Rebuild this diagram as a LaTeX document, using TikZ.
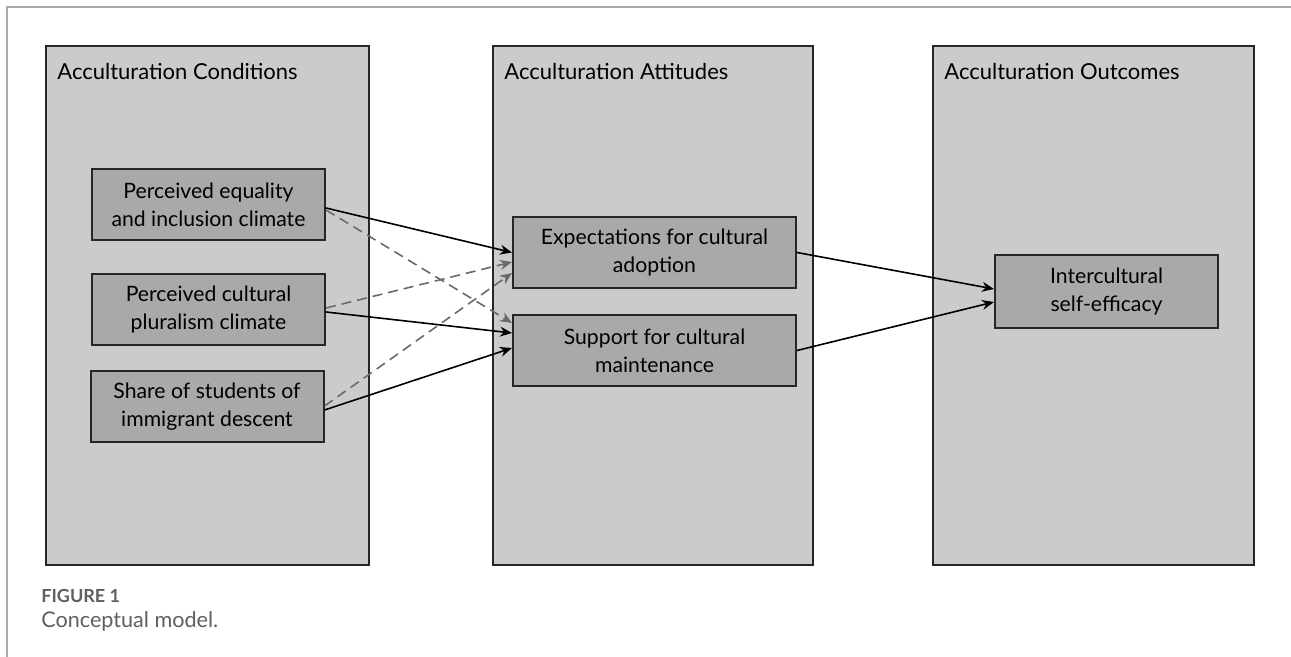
\documentclass[tikz,border=0pt]{standalone}
\usepackage{fontspec}
\setmainfont{Lato}
\usepackage{xcolor}
\usepackage{tikz}
\usetikzlibrary{arrows.meta}

\definecolor{groupfill}{HTML}{CBCBCB}
\definecolor{varfill}{HTML}{A9A9A9}
\definecolor{framegray}{HTML}{AAAAAA}
\definecolor{dashgray}{HTML}{6A6A6A}
\definecolor{captiongray}{HTML}{5F5F5F}

\begin{document}
\begin{tikzpicture}[x=0.5pt,y=-0.5pt]
		\tikzstyle{group}=[draw=black!85, line width=1pt, fill=groupfill, minimum height=259.5pt, inner sep=0pt]
		\tikzstyle{group_text}=[anchor=base west, inner sep=0pt, font=\fontsize{11}{13}\selectfont]
		\tikzstyle{var}=[draw=black!85, line width=1pt, fill=varfill, minimum height=35.5pt, inner sep=0pt, align=center, font=\fontsize{10.6}{14}\selectfont]
		\tikzstyle{path}=[line width=0.8pt, -{Stealth[length=6pt,width=5pt]}]
		\tikzstyle{path_dashed}=[path, draw=dashgray, dash pattern=on 5pt off 3pt]

		\useasboundingbox (0,0) rectangle (1291,657);

		% frame of the figure
		\coordinate (frame_top) at (1291,7);
		\coordinate (frame_corner) at (7,7);
		\coordinate (frame_bottom) at (7,657);
		\draw [framegray, line width=0.75pt] (frame_top) -- (frame_corner) -- (frame_bottom);

		\begin{scope}
			\node [group, minimum width=161.5pt] (conditions) at (207.5,305.5) {};
			\node [group_text] at ([xshift=6pt,yshift=-17.5pt]conditions.north west) {Acculturation Conditions};

			\node [var, minimum width=116.5pt] (peq) at (208.5,204.5) {Perceived equality\\and inclusion climate};
			\node [var, minimum width=116.5pt] (pcp) at (208.5,309.5) {Perceived cultural\\pluralism climate};
			\node [var, minimum width=116.5pt] (sos) at (207,407) {Share of students of\\immigrant descent};
		\end{scope}

		\begin{scope}
			\node [group, minimum width=160pt] (attitudes) at (653,305.5) {};
			\node [group_text] at ([xshift=6pt,yshift=-17.5pt]attitudes.north west) {Acculturation Attitudes};

			\node [var, minimum width=141.5pt] (exp) at (654.5,252.5) {Expectations for cultural\\adoption};
			\node [var, minimum width=141.5pt] (sup) at (654.5,350.5) {Support for cultural\\maintenance};
		\end{scope}

		\begin{scope}
			\node [group, minimum width=160.5pt] (outcomes) at (1093.5,305.5) {};
			\node [group_text] at ([xshift=6pt,yshift=-17.5pt]outcomes.north west) {Acculturation Outcomes};

			\node [var, minimum width=111.5pt, minimum height=36.5pt] (ice) at (1106.5,291.5) {Intercultural\\self-efficacy};
		\end{scope}

		% dashed paths
		\draw [path_dashed] ([yshift=-2.75pt]peq.east) -- ([yshift=13.75pt]sup.west);
		\draw [path_dashed] ([yshift=0.75pt]pcp.east) -- ([yshift=-4.75pt]exp.west);
		\draw [path_dashed] ([yshift=0.5pt]sos.east) -- ([yshift=-10.25pt]exp.west);

		% solid paths
		\draw [path] ([yshift=-1.75pt]peq.east) -- (exp.west);
		\draw [path] ([yshift=-1.25pt]pcp.east) -- ([yshift=8.75pt]sup.west);
		\draw [path] ([yshift=-1.5pt]sos.east) -- ([yshift=1.25pt]sup.west);
		\draw [path] (exp.east) -- ([yshift=1.25pt]ice.west);
		\draw [path] (sup.east) -- ([yshift=-5.25pt]ice.west);

		% caption
		\node [anchor=base west, inner sep=0pt, text=captiongray, font=\fontsize{9}{11}\selectfont\bfseries] (fig_label) at (41,603) {FIGURE 1};
		\node [anchor=base west, inner sep=0pt, text=captiongray, font=\fontsize{10.8}{13}\selectfont] (fig_caption) at (41,627) {Conceptual model.};
	\end{tikzpicture}
\end{document}
